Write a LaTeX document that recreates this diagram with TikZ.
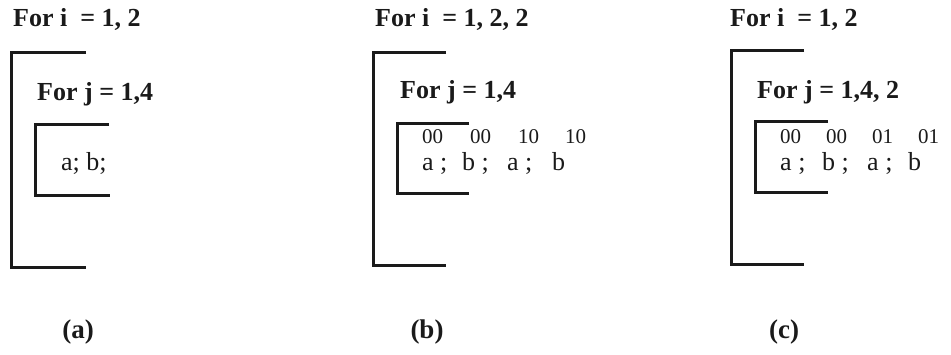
\documentclass[tikz,border=0pt]{standalone}
\usepackage{fontspec}
\setmainfont{Liberation Serif}
\usetikzlibrary{positioning}
\definecolor{ink}{HTML}{1A1A1A}

\begin{document}
\begin{tikzpicture}[x=1pt,y=-1pt,
  header/.style={anchor=base west, inner sep=0pt, text=ink,
                 font=\fontsize{26}{28}\selectfont\bfseries},
  stmt/.style={anchor=base west, inner sep=0pt, text=ink,
               font=\fontsize{26}{28}\selectfont},
  tag/.style={anchor=base west, inner sep=0pt, text=ink,
              font=\fontsize{21}{23}\selectfont},
  caption/.style={anchor=base, inner sep=0pt, text=ink,
                  font=\fontsize{27}{29}\selectfont\bfseries},
  bracket/.style={draw=ink, line width=3pt}]
\useasboundingbox (0,0) rectangle (951,354);

% (a) plain loops
\node[header] (ia) at (13,26) {For i\ \ = 1, 2};
\draw[bracket] (86,52) -| (11,267) -- (86,267);
\node[header] (ja) at (37,100) {For j = 1,4};
\draw[bracket] (109,124) -| (35,195) -- (110,195);
\node[stmt] (sa) at (61,170) {a; b;};
\node[caption] (capa) at (78,338) {(a)};

% (b) i unrolled by 2
\node[header] (ib) at (375,26) {For i\ \ = 1, 2, 2};
\draw[bracket] (446,52) -| (373,265) -- (446,265);
\node[header] (jb) at (400,98) {For j = 1,4};
\draw[bracket] (469,123) -| (397,193) -- (469,193);
\foreach \x/\t [count=\k] in {422/00,470/00,518/10,565/10}
  \node[tag] (tb\k) at (\x,143) {\t};
\foreach \x/\t [count=\k] in {422/{a ;},462/{b ;},507/{a ;},552/b}
  \node[stmt] (sb\k) at (\x,170) {\t};
\node[caption] (capb) at (427,338) {(b)};

% (c) j unrolled by 2
\node[header] (ic) at (730,26) {For i\ \ = 1, 2};
\draw[bracket] (804,50) -| (731,264) -- (804,264);
\node[header] (jc) at (757,98) {For j = 1,4, 2};
\draw[bracket] (828,121) -| (755,192) -- (828,192);
\foreach \x/\t [count=\k] in {780/00,826/00,872/01,918/01}
  \node[tag] (tc\k) at (\x,143) {\t};
\foreach \x/\t [count=\k] in {780/{a ;},822/{b ;},867/{a ;},908/b}
  \node[stmt] (sc\k) at (\x,170) {\t};
\node[caption] (capc) at (784,338) {(c)};
\end{tikzpicture}
\end{document}
